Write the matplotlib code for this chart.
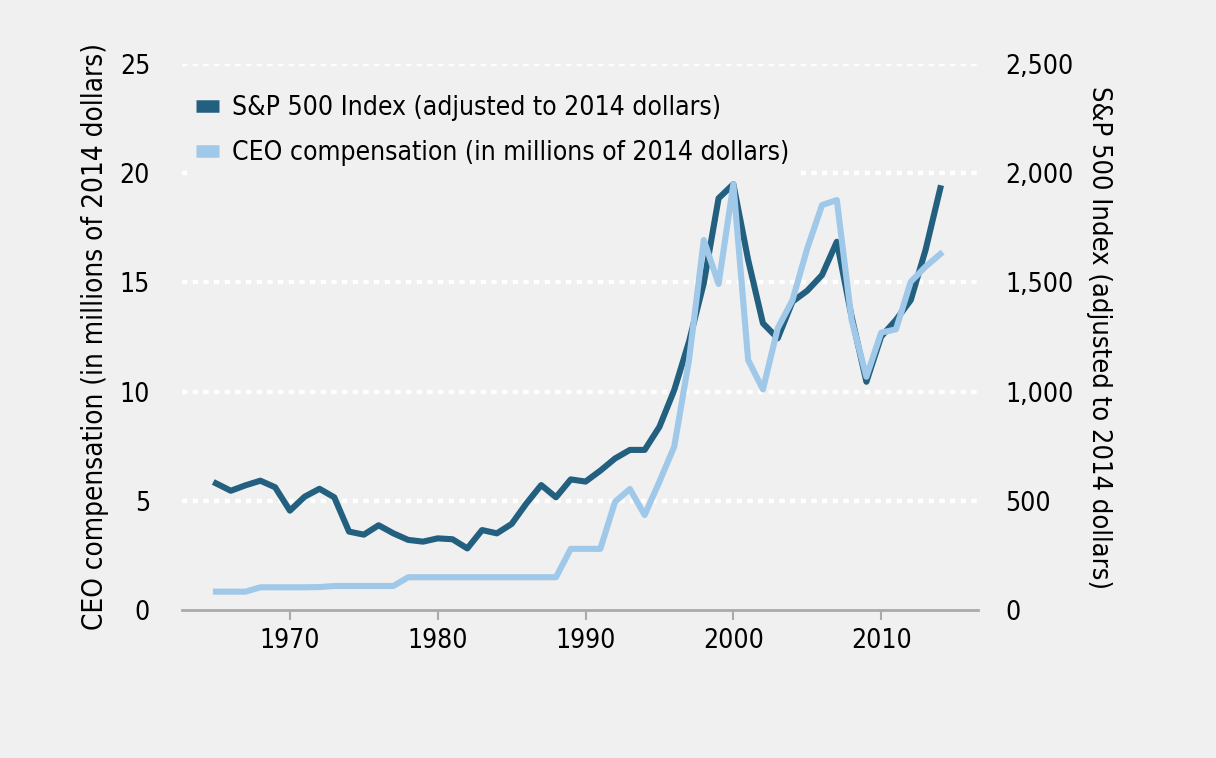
import matplotlib
matplotlib.use('Agg')
from matplotlib import pyplot as plt
from matplotlib.lines import Line2D
from matplotlib.ticker import FuncFormatter

years = list(range(1965, 2015))

# S&P 500 index, adjusted to 2014 dollars
sp500 = [580, 546, 571, 592, 562, 455, 519, 555, 516, 359,
         345, 388, 351, 321, 313, 328, 324, 282, 366, 351,
         394, 488, 572, 516, 598, 588, 638, 694, 733, 733,
         839, 1007, 1229, 1497, 1885, 1950, 1603, 1313, 1244, 1412,
         1462, 1534, 1686, 1343, 1045, 1252, 1328, 1419, 1648, 1931]

# CEO compensation, millions of 2014 dollars
ceo = [0.84, 0.84, 0.84, 1.04, 1.04, 1.04, 1.04, 1.05, 1.10, 1.10,
       1.10, 1.10, 1.10, 1.50, 1.50, 1.50, 1.50, 1.50, 1.50, 1.50,
       1.50, 1.50, 1.50, 1.50, 2.80, 2.80, 2.80, 4.96, 5.54, 4.35,
       5.88, 7.48, 11.45, 16.94, 14.93, 19.50, 11.45, 10.10, 12.90, 14.19,
       16.56, 18.54, 18.77, 13.28, 10.68, 12.70, 12.85, 15.03, 15.72, 16.30]

bg = '#f0f0f0'
dark = '#23607f'
light = '#a0c8e9'
plt.rcParams['font.family'] = ['DejaVu Sans']
plt.rcParams['font.stretch'] = 'condensed'

fig = plt.figure(figsize=(12.16, 7.58), dpi=100, facecolor=bg)
ax2 = fig.add_axes([182 / 1216, 148 / 758, 796 / 1216, 546 / 758])
ax2.set_facecolor(bg)
ax2.yaxis.tick_right()
ax2.yaxis.set_label_position('right')
ax = fig.add_axes([182 / 1216, 148 / 758, 796 / 1216, 546 / 758], sharex=ax2)
ax.patch.set_visible(False)

ax.set_xlim(1962.7, 2016.55)
ax.set_ylim(0, 25)
ax2.set_ylim(0, 2500)

# dotted white grid under both lines
for v in [500, 1000, 1500, 2000, 2500]:
    ax2.axhline(v, color='white', lw=3.2, ls=(0, (1.2, 1.2)), zorder=0)

ax2.plot(years, sp500, color=dark, lw=4.4, zorder=3)
ax.plot(years, ceo, color=light, lw=4.4, zorder=3)

for a in (ax, ax2):
    for s in ['top', 'left', 'right', 'bottom']:
        a.spines[s].set_visible(False)
ax.spines['bottom'].set_visible(True)
ax.spines['bottom'].set_color('#aaaaaa')
ax.spines['bottom'].set_linewidth(2)

ax.set_xticks([1970, 1980, 1990, 2000, 2010])
ax.tick_params(axis='x', length=7, width=1.5, color='#aaaaaa', labelsize=19, pad=6)
ax2.tick_params(axis='x', bottom=False, labelbottom=False)
ax.set_yticks([0, 5, 10, 15, 20, 25])
ax.tick_params(axis='y', length=0, labelsize=19, pad=23)
ax2.set_yticks([0, 500, 1000, 1500, 2000, 2500])
ax2.yaxis.set_major_formatter(FuncFormatter(lambda v, p: f'{int(v):,}'))
ax2.tick_params(axis='y', length=0, labelsize=19, pad=19.5)

ax.set_ylabel('CEO compensation (in millions of 2014 dollars)', fontsize=20,
              labelpad=8)
ax2.set_ylabel('S&P 500 Index (adjusted to 2014 dollars)', fontsize=19.5,
               rotation=270, labelpad=28)

handles = [Line2D([], [], color=dark, lw=9, solid_capstyle='butt'),
           Line2D([], [], color=light, lw=9, solid_capstyle='butt')]
leg = ax.legend(handles, ['S&P 500 Index (adjusted to 2014 dollars)',
                          'CEO compensation (in millions of 2014 dollars)'],
                loc='upper left', bbox_to_anchor=(175 / 1216, 1 - 74 / 758),
                bbox_transform=fig.transFigure, frameon=True, facecolor=bg,
                edgecolor=bg, framealpha=1, fancybox=False, fontsize=19,
                handlelength=0.85, handletextpad=0.5, labelspacing=0.72,
                borderpad=0.3)
leg.set_zorder(5)

fig.savefig('out.png', dpi=100, facecolor=bg)
